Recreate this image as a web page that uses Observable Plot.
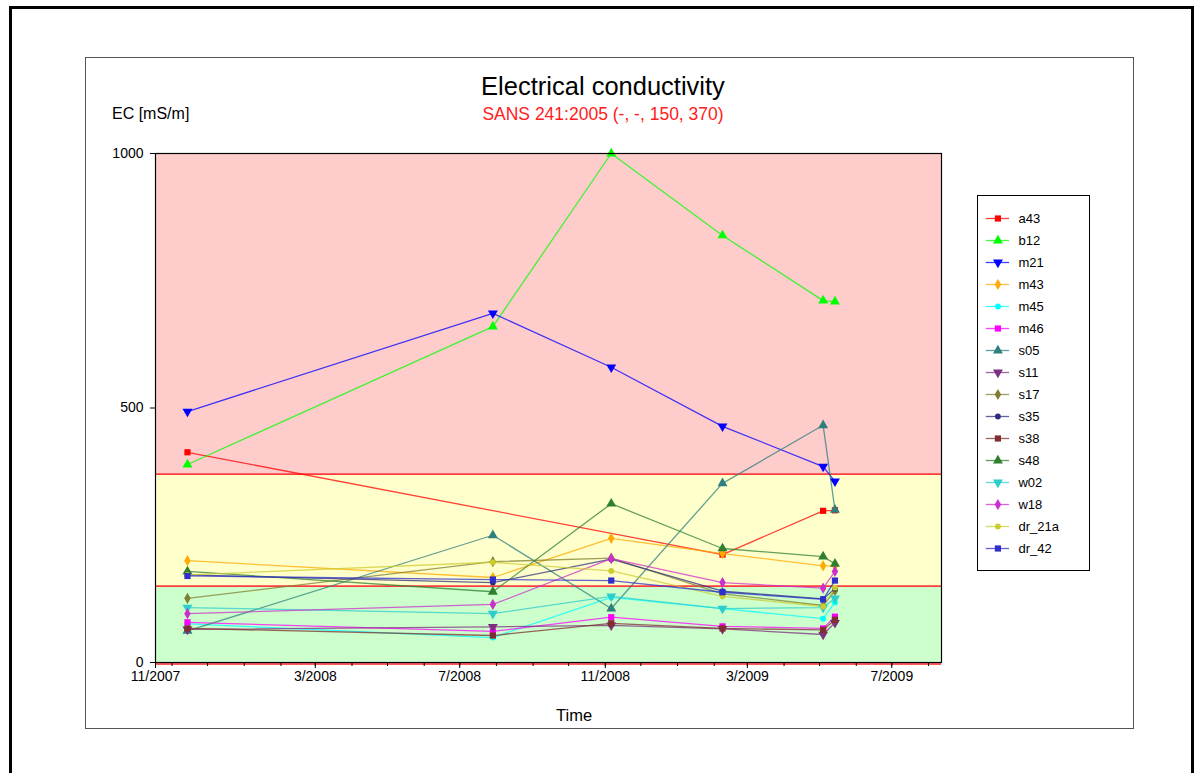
<!DOCTYPE html>
<html>
<head>
<meta charset="utf-8">
<script src="https://cdn.jsdelivr.net/npm/d3@7"></script>
<script src="https://cdn.jsdelivr.net/npm/@observablehq/plot@0.6"></script>
<style>
  html, body { margin: 0; padding: 0; background: #fff; }
  #wrap { position: relative; width: 1195px; height: 773px; overflow: hidden; font-family: "Liberation Sans", Arial, sans-serif; }
  .outer { position: absolute; left: 9px; top: 6px; width: 1179px; height: 820px; border: 3px solid #000; }
  .inner { position: absolute; left: 85px; top: 57px; width: 1047px; height: 670px; border: 1px solid #555; }
  .txt { position: absolute; white-space: nowrap; line-height: 1; }
  #chart { position: absolute; left: 0; top: 0; }
  #legend { position: absolute; left: 977px; top: 195px; width: 111px; height: 374px; border: 1px solid #000; background: #fff; }
  #legend svg { display: block; }
</style>
</head>
<body>
<div id="wrap">
  <div class="outer"></div>
  <div class="inner"></div>
  <div id="chart"></div>
  <div class="txt" id="title" style="left:0;width:1206px;text-align:center;top:74px;font-size:25.5px;color:#000;">Electrical conductivity</div>
  <div class="txt" id="subtitle" style="left:0;width:1206px;text-align:center;top:106px;font-size:17.5px;color:#ff2020;">SANS 241:2005 (-, -, 150, 370)</div>
  <div class="txt" id="ylabel" style="left:112px;top:106px;font-size:16px;color:#000;">EC [mS/m]</div>
  <div class="txt" id="xlabel" style="left:556px;top:707px;font-size:16.5px;color:#000;">Time</div>
  <div id="legend"></div>
</div>
<script>
// ---------- data ----------
const seriesNames = ["a43","b12","m21","m43","m45","m46","s05","s11","s17","s35","s38","s48","w02","w18","dr_21a","dr_42"];
const seriesColors = ["#ff0000","#00ff00","#0000ff","#ffaa00","#00ffff","#ff00ff","#2f7f7f","#7f2f7f","#7f7f2f","#2f2f7f","#7f2f2f","#2f7f2f","#2fcccc","#cc2fcc","#cccc2f","#2f2fcc"];
const seriesSymbols = ["square","triangle","triangleDown","diamond","circle","square","triangle","triangleDown","diamond","circle","square","triangle","triangleDown","diamond","circle","square"];
const sampleDates = ["2007-11-14","2008-07-29","2008-11-06","2009-02-08","2009-05-04","2009-05-14"];

const a43   = [413, null, null, 212, 298, 299];
const b12   = [389, 660, 1000, 839, 711, 709];
const m21   = [493, 686, 580, 464, 385, 356];
const m43   = [200, 167, 244, 214, 190, 190];
const m45   = [76, 49, 128, 106, 86, 118];
const m46   = [79, 61, 89, 71, 67, 90];
const s05   = [62, 250, 106, 352, 466, 300];
const s11   = [65, 70, 73, 66, 55, 78];
const s17   = [126, 198, 205, 135, 112, 141];
const s35   = [172, 157, 203, 140, 125, 145];
const s38   = [67, 53, 77, 67, 64, 84];
const s48   = [179, 139, 312, 224, 208, 194];
const w02   = [108, 96, 130, 106, 108, 126];
const w18   = [96, 114, 204, 157, 146, 179];
const dr_21a= [172, 197, 180, 130, 110, 147];
const dr_42 = [170, 163, 161, 138, 124, 161];
const seriesValues = [a43,b12,m21,m43,m45,m46,s05,s11,s17,s35,s38,s48,w02,w18,dr_21a,dr_42];

const bandLows   = [0, 150, 370];
const bandHighs  = [150, 370, 1000];
const bandColors = ["#ccffcc", "#ffffcc", "#ffcccc"];
const thresholds = [150, 370];

const xDomain = ["2007-10-18", "2009-08-12"];
const xTickDates  = ["2007-10-18","2008-03-01","2008-07-01","2008-11-01","2009-03-01","2009-07-01"];
const xTickLabels = ["11/2007","3/2008","7/2008","11/2008","3/2009","7/2009"];
const yTicks = [0, 500, 1000];

// ---------- build ----------
const parse = s => new Date(s + "T00:00:00Z");
const rows = [];
seriesNames.forEach((name, i) => {
  seriesValues[i].forEach((v, j) => {
    if (v != null) rows.push({series: name, date: parse(sampleDates[j]), value: v});
  });
});
const bands = bandLows.map((lo, i) => ({lo, hi: bandHighs[i], color: bandColors[i]}));
const tickDates = xTickDates.map(parse);
const labelMap = new Map(tickDates.map((d, i) => [+d, xTickLabels[i]]));
const minorTicks = d3.utcMonth.range(parse("2007-11-01"), parse("2009-08-02"));

const triangleDown = {
  draw(ctx, size) {
    const a = Math.sqrt(4 * size / Math.sqrt(3));
    const h = a * Math.sqrt(3) / 2;
    ctx.moveTo(-a / 2, -h / 3);
    ctx.lineTo(a / 2, -h / 3);
    ctx.lineTo(0, 2 * h / 3);
    ctx.closePath();
  }
};
const symbolOf = s => s === "triangleDown" ? triangleDown : s;
const radiusOf = s => (s === "triangle" || s === "triangleDown") ? 3.7 : (s === "circle" ? 2.9 : (s === "diamond" ? 3.4 : 3.5));

const lineMarks = seriesNames.map((name, i) =>
  Plot.line(rows.filter(r => r.series === name), {
    x: "date", y: "value", stroke: seriesColors[i], strokeWidth: 1.3, strokeOpacity: 0.75
  })
);
const dotMarks = seriesNames.map((name, i) =>
  Plot.dot(rows.filter(r => r.series === name), {
    x: "date", y: "value", fill: seriesColors[i], stroke: "none",
    symbol: symbolOf(seriesSymbols[i]), r: radiusOf(seriesSymbols[i])
  })
);

const chart = Plot.plot({
  width: 1195,
  height: 773,
  marginTop: 153,
  marginRight: 254,
  marginBottom: 111,
  marginLeft: 155,
  style: {fontFamily: "Liberation Sans, Arial, sans-serif", fontSize: "14px", color: "#000", background: "transparent"},
  x: {type: "utc", domain: xDomain.map(parse)},
  y: {domain: [0, 1000]},
  marks: [
    Plot.rectY(bands, {y1: "lo", y2: "hi", fill: "color"}),
    Plot.ruleY(thresholds, {stroke: "#ff3b3b", strokeWidth: 1.6}),
    ...lineMarks,
    ...dotMarks,
    Plot.ruleY([0], {stroke: "#ff2020", strokeWidth: 1.5, dy: 1.5}),
    Plot.frame({stroke: "#000", strokeWidth: 1.2}),
    Plot.axisY({ticks: yTicks, tickSize: 5, tickPadding: 7, label: null, fontSize: 14, tickFormat: d => String(d)}),
    Plot.axisX({ticks: minorTicks, tickSize: 4, tickFormat: () => "", label: null}),
    Plot.axisX({ticks: tickDates, tickSize: 6, tickPadding: 3, label: null, fontSize: 14, tickFormat: d => labelMap.get(+d)})
  ]
});
document.getElementById("chart").appendChild(chart);

// ---------- legend ----------
const legendLines = seriesNames.map((name, i) =>
  Plot.ruleY([name], {x1: 0.07, x2: 0.28, stroke: seriesColors[i], strokeWidth: 1.3, strokeOpacity: 0.75})
);
const legendDots = seriesNames.map((name, i) =>
  Plot.dot([name], {y: d => d, x: 0.175, fill: seriesColors[i], stroke: "none",
    symbol: symbolOf(seriesSymbols[i]), r: radiusOf(seriesSymbols[i])})
);
const legend = Plot.plot({
  width: 111,
  height: 374,
  marginTop: 20,
  marginBottom: 21,
  marginLeft: 0,
  marginRight: 0,
  style: {fontFamily: "Liberation Sans, Arial, sans-serif", fontSize: "13px", color: "#000", background: "transparent"},
  x: {domain: [0, 1], axis: null},
  y: {type: "point", domain: seriesNames, axis: null, padding: 0},
  marks: [
    ...legendLines,
    ...legendDots,
    Plot.text(seriesNames, {y: d => d, x: 0.36, text: d => d, textAnchor: "start", fill: "#000", fontSize: 13})
  ]
});
document.getElementById("legend").appendChild(legend);
</script>
</body>
</html>
